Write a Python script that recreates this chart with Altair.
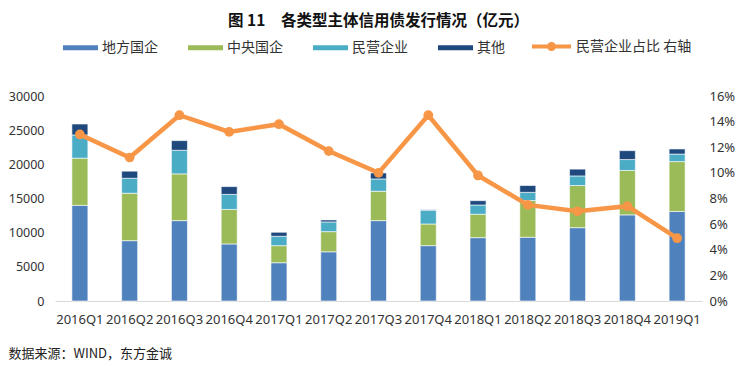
import altair as alt
import pandas as pd

quarters = ["2016Q1", "2016Q2", "2016Q3", "2016Q4", "2017Q1", "2017Q2", "2017Q3",
            "2017Q4", "2018Q1", "2018Q2", "2018Q3", "2018Q4", "2019Q1"]
local_soe = [14000, 8830, 11760, 8350, 5600, 7200, 11760, 8100, 9270, 9330, 10730, 12600, 13100]
central_soe = [6900, 6940, 6840, 5050, 2500, 2950, 4300, 3170, 3430, 5370, 6170, 6500, 7300]
private_ent = [3400, 2190, 3460, 2200, 1370, 1420, 1800, 2030, 1350, 1200, 1400, 1600, 1100]
others = [1600, 1040, 1410, 1140, 590, 290, 880, 60, 630, 1000, 1000, 1300, 750]
private_share_pct = [13.0, 11.2, 14.5, 13.2, 13.8, 11.7, 10.0, 14.5, 9.8, 7.5, 7.0, 7.4, 4.9]

series_names = ["地方国企", "中央国企", "民营企业", "其他"]
series_colors = ["#4F81BD", "#9BBB59", "#4BACC6", "#1F497D"]
line_name = "民营企业占比 右轴"
line_color = "#F79646"

rows = []
for i, q in enumerate(quarters):
    for k, (name, vals) in enumerate(zip(series_names, [local_soe, central_soe, private_ent, others])):
        rows.append({"quarter": q, "series": name, "value": vals[i], "order": k})
bars_df = pd.DataFrame(rows)
line_df = pd.DataFrame({"quarter": quarters,
                        "share": [v / 100 for v in private_share_pct],
                        "series": [line_name] * len(quarters)})

FONT = "Noto Sans"
CJK = "Noto Sans CJK SC"

x_enc = alt.X(
    "quarter:N", sort=quarters,
    scale=alt.Scale(paddingInner=0, paddingOuter=0),
    axis=alt.Axis(labelAngle=0, ticks=False, domainColor="#D9D9D9", domainWidth=1,
                  labelFont=FONT, labelFontSize=13, labelColor="#333333", labelPadding=12,
                  title="数据来源：WIND，东方金诚", titleFont=CJK, titleFontSize=13,
                  titleFontWeight="normal", titleColor="#222222", titleAnchor="start",
                  titleAlign="left", titleX=-47, titleY=52, titleBaseline="middle"),
)

bars = alt.Chart(bars_df).mark_bar(size=16, stroke="white", strokeWidth=0.6).encode(
    x=x_enc,
    y=alt.Y("value:Q", stack="zero",
            scale=alt.Scale(domain=[0, 30000], nice=False),
            axis=alt.Axis(values=list(range(0, 30001, 5000)), format="d", domain=False,
                          ticks=False, grid=False, labelFont=FONT, labelFontSize=12.5,
                          labelColor="#333333", labelPadding=11, title=None)),
    color=alt.Color("series:N", sort=series_names,
                    scale=alt.Scale(domain=series_names, range=series_colors),
                    legend=alt.Legend(title=None, orient="none", direction="horizontal",
                                      columns=4, legendX=8, legendY=-66,
                                      symbolType="M-1,-0.14H1V0.14H-1Z", symbolSize=1225,
                                      symbolStrokeWidth=0, labelFont=CJK, labelFontSize=14,
                                      labelColor="#333333", labelOffset=4,
                                      columnPadding=30)),
    order=alt.Order("order:Q"),
)

right_axis = alt.Axis(orient="right", values=[i / 100 for i in range(0, 17, 2)],
                      format=".0%", domain=False, ticks=False, grid=False,
                      labelFont=FONT, labelFontSize=13, labelColor="#333333",
                      labelPadding=7, title=None)
share_scale = alt.Scale(domain=[0, 0.16], nice=False)

line = alt.Chart(line_df).mark_line(strokeWidth=4.5).encode(
    x=alt.X("quarter:N", sort=quarters),
    y=alt.Y("share:Q", scale=share_scale, axis=right_axis),
    stroke=alt.Stroke("series:N",
                      scale=alt.Scale(domain=[line_name], range=[line_color]),
                      legend=alt.Legend(title=None, orient="none", legendX=475, legendY=-71,
                                        symbolType="M-1,0H1M-0.13,0A0.13,0.13,0,1,0,0.13,0A0.13,0.13,0,1,0,-0.13,0Z",
                                        symbolSize=1521, symbolStrokeWidth=4,
                                        symbolFillColor=line_color, symbolStrokeColor=line_color,
                                        labelFont=CJK, labelFontSize=14, labelColor="#333333",
                                        labelOffset=3)),
)

points = alt.Chart(line_df).mark_point(filled=True, size=95, opacity=1, color=line_color).encode(
    x=alt.X("quarter:N", sort=quarters),
    y=alt.Y("share:Q", scale=share_scale, axis=right_axis),
)

right = alt.layer(line, points)

chart = alt.layer(bars, right).resolve_scale(y="independent").properties(
    width=647, height=205,
    autosize=alt.AutoSizeParams(type="none"),
    padding={"left": 47, "top": 88, "right": 36, "bottom": 62},
    title=alt.TitleParams("图 11\u3000各类型主体信用债发行情况（亿元）", anchor="middle",
                          font=CJK, fontSize=15.5, fontWeight="bold", color="#111111",
                          offset=-4),
).configure_view(stroke=None)

chart.save("out.html", embed_options={"renderer": "svg", "actions": False})
